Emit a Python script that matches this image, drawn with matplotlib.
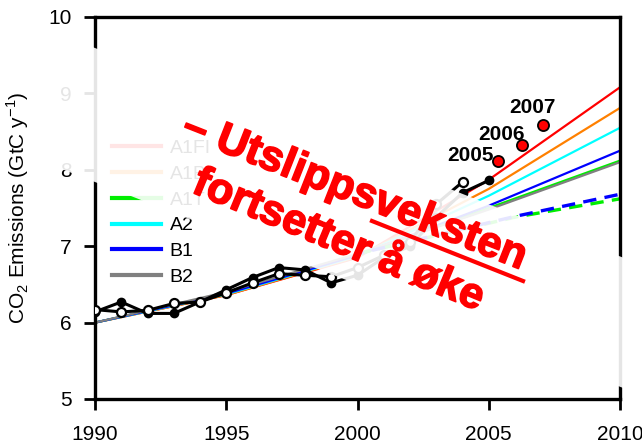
import matplotlib
matplotlib.use("Agg")
import matplotlib.pyplot as plt
import matplotlib.patheffects as pe
from matplotlib.patches import Polygon
from matplotlib.lines import Line2D

plt.rcParams['font.family'] = ['Liberation Sans', 'DejaVu Sans']
plt.rcParams['mathtext.fontset'] = 'custom'
plt.rcParams['mathtext.rm'] = 'Liberation Sans'

# observed emissions (two data sets)
obs_years = [1990, 1991, 1992, 1993, 1994, 1995, 1996, 1997,
             1998, 1999, 2000, 2001, 2002, 2003, 2004, 2005]
obs_filled = [6.14, 6.27, 6.12, 6.12, 6.27, 6.43, 6.59, 6.72,
              6.69, 6.52, 6.62, 6.85, 7.00, 7.38, 7.70, 7.86]
open_years = [1990, 1991, 1992, 1993, 1994, 1995, 1996, 1997,
              1998, 1999, 2000, 2001, 2002, 2003, 2004]
obs_open = [6.17, 6.14, 6.16, 6.25, 6.27, 6.39, 6.52, 6.64,
            6.62, 6.60, 6.72, 6.88, 7.05, 7.55, 7.84]

# recent points
recent_x = [2005.35, 2006.27, 2007.07]
recent_y = [8.12, 8.32, 8.58]
recent_labels = ["2005", "2006", "2007"]
label_offsets = [(-20, 4), (-15, 8), (-8, 13)]  # points, label centre vs dot

# SRES scenarios
scen_years = [1990, 1995, 2000, 2005, 2010]
scen_names = ["A1FI", "A1B", "A1T", "A2", "B1", "B2"]
scen_colors = ["#ff0000", "#ff8000", "#00ee00", "#00ffff", "#0000ff", "#808080"]
scen_values = {
    "A1FI": [6.0, 6.36, 6.85, 7.87, 9.08],
    "A1B": [6.0, 6.36, 6.86, 7.75, 8.81],
    "A1T": [6.0, 6.38, 6.88, 7.50, 8.12],
    "A2": [6.0, 6.37, 6.87, 7.66, 8.55],
    "B1": [6.0, 6.38, 6.88, 7.53, 8.25],
    "B2": [6.0, 6.40, 6.90, 7.48, 8.10],
}
dash_years = [2000, 2006, 2010]
dash_blue = [6.90, 7.39, 7.68]
dash_green = [6.90, 7.38, 7.62]

W, H = 642, 446
fig = plt.figure(figsize=(W / 100, H / 100), dpi=100)
ax = fig.add_axes([95 / W, 1 - 399 / H, 525 / W, 382 / H])

handles = []
for name, col in zip(scen_names, scen_colors):
    ax.plot(scen_years, scen_values[name], color=col, lw=1.6, zorder=2)
    handles.append(Line2D([], [], color=col, lw=3))
ax.plot(dash_years, dash_green, color="#00ee00", lw=2.4, ls=(0, (4, 2.5)), zorder=2)
ax.plot(dash_years, dash_blue, color="#0000ff", lw=2.4, ls=(2, (4, 2.5)), zorder=2)

ax.plot(obs_years, obs_filled, color="black", lw=2.2, marker="o", ms=6,
        mfc="black", mec="black", zorder=3)
ax.plot(open_years, obs_open, color="black", lw=2.2, marker="o", ms=6.5,
        mfc="white", mec="black", mew=1.6, zorder=4)

ax.plot(recent_x, recent_y, ls="none", marker="o", ms=8, mfc="#ff0000",
        mec="black", mew=1.3, zorder=5)
for x, y, lab, off in zip(recent_x, recent_y, recent_labels, label_offsets):
    ax.annotate(lab, (x, y), xytext=off, textcoords="offset points",
                ha="center", va="center", fontsize=15, fontweight="bold", zorder=6)

ax.set_xlim(1990, 2010)
ax.set_ylim(5, 10)
ax.set_xticks([1990, 1995, 2000, 2005, 2010])
ax.set_yticks([5, 6, 7, 8, 9, 10])
ax.tick_params(direction="out", length=8, width=2, labelsize=15)
ax.tick_params(axis="x", pad=11)
ax.tick_params(axis="y", pad=9)
for sp in ax.spines.values():
    sp.set_linewidth(2.4)
ax.set_ylabel("CO$_2$ Emissions (GtC y$^{-1}$)", fontsize=15, labelpad=12)

ax.legend(handles, scen_names, loc="upper left", bbox_to_anchor=(95 / W, 1 - 122 / H),
          bbox_transform=fig.transFigure, frameon=False, fontsize=14,
          handlelength=2.5, handletextpad=0.45, labelspacing=0.42)


# faded band across the middle of the chart
def fpt(x, y):
    return (x / W, 1 - y / H)


band = Polygon([fpt(55, 48 - 0.397 * 40), fpt(642, 48 + 0.397 * 547),
                fpt(642, 182 + 0.39 * 547), fpt(55, 182 - 0.39 * 40)],
               closed=True, transform=fig.transFigure, facecolor="white",
               edgecolor="none", alpha=0.9, zorder=10)
fig.add_artist(band)

# red overlay text
red = "#ff0000"
heavy = [pe.withStroke(linewidth=1.2, foreground=red)]
fig.text(354 / W, 1 - 192 / H, "\u2013 Utslippsveksten", color=red, fontsize=31,
         fontweight="bold", rotation=-21.5, rotation_mode="anchor",
         ha="center", va="center", zorder=11, path_effects=heavy)
fig.text(338 / W, 1 - 241 / H, "fortsetter \u00e5 \u00f8ke", color=red, fontsize=31,
         fontweight="bold", rotation=-22.5, rotation_mode="anchor",
         ha="center", va="center", zorder=11, path_effects=heavy)
fig.add_artist(Line2D([372 / W, 523 / W], [1 - 221 / H, 1 - 281 / H], color=red,
                      lw=3, transform=fig.transFigure, zorder=11))

fig.savefig("out.png", dpi=100)
